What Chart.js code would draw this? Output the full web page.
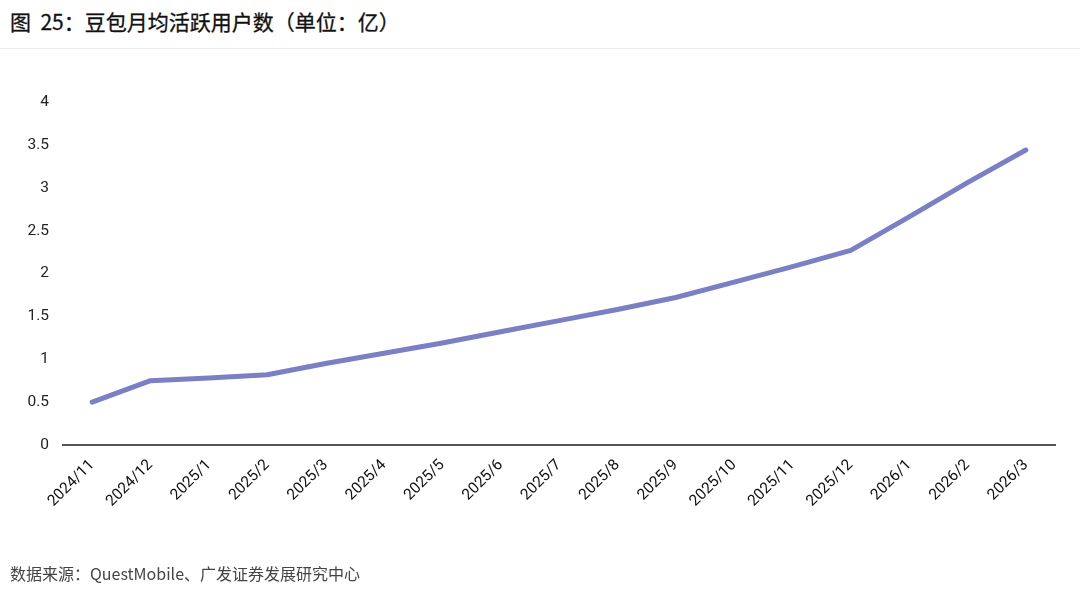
<!DOCTYPE html>
<html>
<head>
<meta charset="utf-8">
<script src="https://cdn.jsdelivr.net/npm/chart.js@4/dist/chart.umd.min.js"></script>
<style>
  body { margin: 0; background: #fff; width: 1080px; height: 591px; overflow: hidden; position: relative; }
  .title { position: absolute; left: 10px; top: 6px; font-family: "Noto Sans CJK SC", sans-serif; font-size: 21px; font-weight: 400; color: #111; -webkit-text-stroke: 0.3px #111; white-space: pre; }
  .sep { position: absolute; left: 0; top: 48px; width: 1080px; height: 1px; background: #ececec; }
  .source { position: absolute; left: 10px; top: 561px; font-family: "Noto Sans CJK SC", sans-serif; font-size: 16px; color: #444; }
  .wrap { position: absolute; left: 0; top: 0; width: 1080px; height: 591px; }
</style>
</head>
<body>
<div class="title">图  25：豆包月均活跃用户数（单位：亿）</div>
<div class="sep"></div>
<div class="wrap"><canvas id="chart"></canvas></div>
<div class="source">数据来源：QuestMobile、广发证券发展研究中心</div>
<script>
// 月份
const months = ['2024/11','2024/12','2025/1','2025/2','2025/3','2025/4','2025/5','2025/6','2025/7','2025/8','2025/9','2025/10','2025/11','2025/12','2026/1','2026/2','2026/3'];
// 月活 (亿)
const mau = [0.50, 0.75, 0.78, 0.82, 0.95, 1.07, 1.19, 1.32, 1.45, 1.58, 1.72, 1.90, 2.08, 2.27, 2.66, 3.06, 3.44];
const yTicks = [0, 0.5, 1, 1.5, 2, 2.5, 3, 3.5, 4];

const tickFont = { family: 'Roboto, "Liberation Sans", sans-serif', size: 15.5 };

new Chart(document.getElementById('chart'), {
    type: 'line',
    data: {
        labels: months,
        datasets: [{
            data: mau,
            borderColor: '#7b7fc4',
            borderWidth: 5,
            pointRadius: 0,
            tension: 0,
            borderCapStyle: 'round',
            borderJoinStyle: 'round'
        }]
    },
    options: {
        responsive: true,
        maintainAspectRatio: false,
        animation: false,
        layout: { padding: { top: 102, right: 25, bottom: 0, left: 0 } },
        plugins: { legend: { display: false }, tooltip: { enabled: false } },
        scales: {
            x: {
                offset: true,
                grid: { display: false, drawTicks: false },
                border: { color: '#555', width: 2 },
                ticks: { color: '#111', font: tickFont, maxRotation: 45, minRotation: 45, autoSkip: false, padding: 11 },
                afterFit: (scale) => { scale.height = 146; }
            },
            y: {
                min: 0, max: 4,
                grid: { display: false, drawTicks: false },
                border: { display: false },
                afterBuildTicks: (scale) => { scale.ticks = yTicks.map(v => ({ value: v })); },
                ticks: { color: '#222', font: tickFont, padding: 14, callback: (v) => String(v) },
                afterFit: (scale) => { scale.width = 63; }
            }
        }
    }
});
</script>
</body>
</html>
